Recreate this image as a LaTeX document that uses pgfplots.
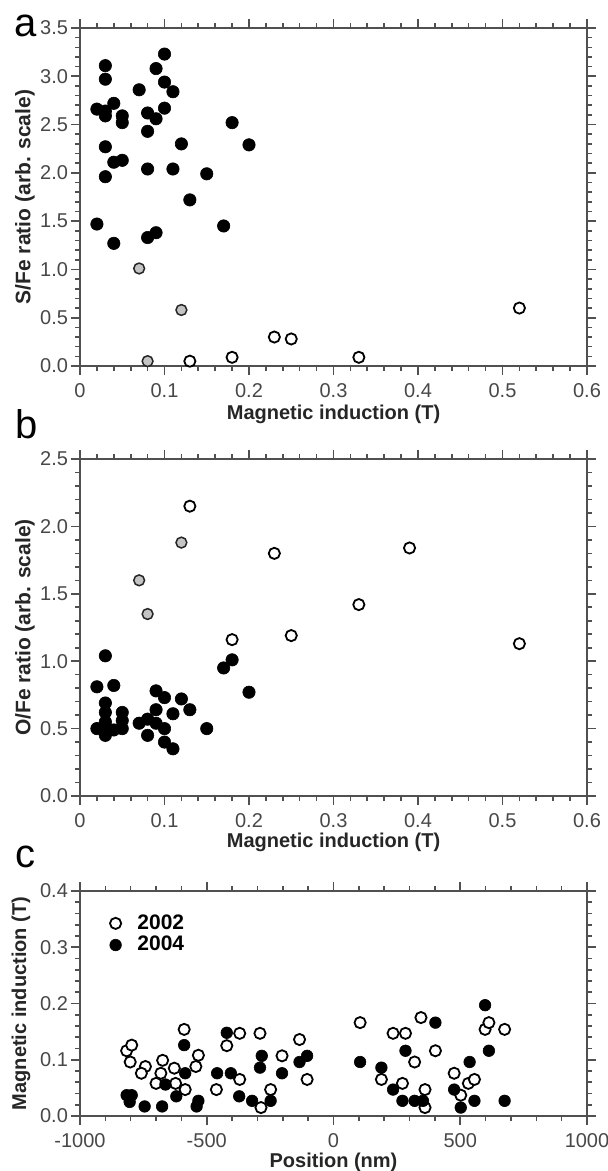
\documentclass[border=0pt]{standalone}
\usepackage{pgfplots}
\pgfplotsset{compat=1.18}
\usepackage{fontspec}
\setmainfont{Liberation Sans}

\definecolor{axisgray}{HTML}{505050}
\definecolor{labelgray}{HTML}{484848}
\definecolor{midgray}{HTML}{C4C4C4}

\pgfplotsset{
  panel/.style={
    scale only axis,
    width=253.5pt,
    axis line style={draw=axisgray, line width=1pt},
    tick style={draw=axisgray, line width=0.8pt},
    tick align=outside,
    major tick length=4.5pt,
    minor tick length=2.5pt,
    minor x tick num=4,
    minor y tick num=4,
    x tick label style={font=\fontsize{10}{10}\selectfont, text=labelgray, inner sep=1pt, yshift=-3pt},
    y tick label style={font=\fontsize{10}{10}\selectfont, text=labelgray, xshift=2pt},
    every axis x label/.style={at={([yshift=-24pt]axis description cs:0.5,0)}, anchor=center, inner sep=1pt,
      font=\bfseries\fontsize{10}{12}\selectfont, text=black!85},
    every axis y label/.style={at={([xshift=-27.5pt]axis description cs:0,0.5)}, anchor=center, rotate=90, inner sep=1pt,
      font=\bfseries\fontsize{10.5}{12}\selectfont, text=black!85},
  },
  blk/.style={only marks, mark=*, mark size=3.1pt, mark options={fill=black, draw=black, line width=0.3pt}},
  gry/.style={only marks, mark=*, mark size=2.7pt, mark options={fill=midgray, draw=black!85, line width=0.75pt}},
  opn/.style={only marks, mark=*, mark size=2.8pt, mark options={fill=white, draw=black, line width=0.9pt}},
}

\begin{document}
\begin{tikzpicture}
\fill[white] (0,0) rectangle (304pt,-585.5pt);
\path[use as bounding box] (0,0) rectangle (304pt,-585.5pt);

% panel letters
\node[anchor=base west, inner sep=0pt, font=\fontsize{20}{20}\selectfont] at (7pt,-18.3pt) {a};
\node[anchor=base west, inner sep=0pt, font=\fontsize{20}{20}\selectfont] at (7.5pt,-219pt) {b};
\node[anchor=base west, inner sep=0pt, font=\fontsize{20}{20}\selectfont] at (7.5pt,-433.5pt) {c};

% ---- a: S/Fe ratio
\begin{axis}[panel,
  at={(40pt,-183pt)}, anchor=south west,
  height=169pt,
  xmin=0, xmax=0.6, ymin=0, ymax=3.5,
  xtick={0,0.1,0.2,0.3,0.4,0.5,0.6},
  xticklabels={0,0.1,0.2,0.3,0.4,0.5,0.6},
  ytick={0,0.5,1,1.5,2,2.5,3,3.5},
  yticklabels={0.0,0.5,1.0,1.5,2.0,2.5,3.0,3.5},
  xlabel={Magnetic induction (T)},
  ylabel={S/Fe ratio (arb. scale)},
  clip=false,
]
\addplot[blk] coordinates {
  (0.02,2.66) (0.02,1.47) (0.03,3.11) (0.03,2.97) (0.03,2.64) (0.03,2.59)
  (0.04,2.72) (0.03,2.27) (0.03,1.96) (0.04,2.11) (0.05,2.13) (0.05,2.59)
  (0.05,2.52) (0.04,1.27) (0.07,2.86) (0.08,2.62) (0.08,2.43) (0.08,2.04)
  (0.08,1.33) (0.09,1.38) (0.09,3.08) (0.09,2.56) (0.10,3.23) (0.10,2.94)
  (0.10,2.67) (0.11,2.84) (0.11,2.04) (0.12,2.30) (0.13,1.72) (0.15,1.99)
  (0.17,1.45) (0.18,2.52) (0.20,2.29)
};
\addplot[gry] coordinates {(0.07,1.01) (0.12,0.58) (0.08,0.05)};
\addplot[opn] coordinates {
  (0.13,0.05) (0.18,0.09) (0.23,0.30) (0.25,0.28) (0.33,0.09) (0.52,0.60)
};
\end{axis}

% ---- b: O/Fe ratio
\begin{axis}[panel,
  at={(40pt,-398pt)}, anchor=south west,
  height=168.5pt,
  xmin=0, xmax=0.6, ymin=0, ymax=2.5,
  xtick={0,0.1,0.2,0.3,0.4,0.5,0.6},
  xticklabels={0,0.1,0.2,0.3,0.4,0.5,0.6},
  ytick={0,0.5,1,1.5,2,2.5},
  yticklabels={0.0,0.5,1.0,1.5,2.0,2.5},
  xlabel={Magnetic induction (T)},
  ylabel={O/Fe ratio (arb. scale)},
  x label style={at={([yshift=-23pt]axis description cs:0.5,0)}},
  clip=false,
]
\addplot[blk] coordinates {
  (0.02,0.81) (0.02,0.50) (0.03,1.04) (0.03,0.69) (0.03,0.62) (0.03,0.55)
  (0.03,0.45) (0.03,0.52) (0.04,0.82) (0.04,0.49) (0.05,0.62) (0.05,0.56)
  (0.05,0.50) (0.07,0.54) (0.08,0.57) (0.08,0.45) (0.09,0.78) (0.09,0.64)
  (0.09,0.54) (0.10,0.73) (0.10,0.50) (0.10,0.40) (0.11,0.61) (0.11,0.35)
  (0.12,0.72) (0.13,0.64) (0.15,0.50) (0.17,0.95) (0.18,1.01) (0.20,0.77)
};
\addplot[gry] coordinates {(0.07,1.60) (0.08,1.35) (0.12,1.88)};
\addplot[opn] coordinates {
  (0.13,2.15) (0.18,1.16) (0.23,1.80) (0.25,1.19) (0.33,1.42) (0.39,1.84) (0.52,1.13)
};
\end{axis}

% ---- c: magnetic induction vs position
\begin{axis}[panel,
  at={(40pt,-558pt)}, anchor=south west,
  height=112.5pt,
  xmin=-1000, xmax=1000, ymin=0, ymax=0.4,
  xtick={-1000,-500,0,500,1000},
  xticklabels={-1000,-500,0,500,1000},
  ytick={0,0.1,0.2,0.3,0.4},
  yticklabels={0.0,0.1,0.2,0.3,0.4},
  xlabel={Position (nm)},
  ylabel={Magnetic induction (T)},
  x label style={at={([yshift=-23pt]axis description cs:0.5,0)}},
  y label style={at={([xshift=-29.5pt]axis description cs:0,0.5)}, font=\bfseries\fontsize{10}{12}\selectfont},
  legend style={draw=none, fill=none, at={(0.058,0.915)}, anchor=north west,
    font=\bfseries\fontsize{10.5}{10.5}\selectfont, row sep=-2pt, inner sep=0pt,
    /tikz/every odd column/.append style={column sep=6pt}},
  legend cell align=left,
  clip=false,
]
\addplot[opn] coordinates {
  (-816,0.116) (-796,0.126) (-802,0.096) (-742,0.088) (-758,0.076) (-700,0.058)
  (-674,0.099) (-681,0.076) (-628,0.085) (-623,0.058) (-589,0.154) (-585,0.047)
  (-543,0.088) (-533,0.108) (-462,0.047) (-421,0.125) (-370,0.147) (-370,0.065)
  (-290,0.147) (-286,0.015) (-248,0.047) (-203,0.107) (-134,0.136) (-104,0.065)
  (105,0.166) (189,0.065) (235,0.147) (284,0.147) (272,0.058) (320,0.096)
  (345,0.175) (361,0.047) (361,0.015) (402,0.116) (476,0.076) (502,0.037)
  (532,0.058) (556,0.065) (598,0.154) (613,0.166) (675,0.154)
};
\addlegendentry{2002}
\addplot[blk, mark size=2.9pt] coordinates {
  (-816,0.037) (-796,0.037) (-804,0.025) (-745,0.017) (-676,0.017) (-663,0.056)
  (-620,0.035) (-589,0.126) (-585,0.076) (-540,0.017) (-533,0.027) (-459,0.076)
  (-421,0.148) (-405,0.076) (-372,0.035) (-321,0.027) (-290,0.086) (-283,0.107)
  (-248,0.027) (-203,0.076) (-134,0.096) (-104,0.107) (105,0.096) (189,0.086)
  (235,0.047) (272,0.027) (284,0.116) (320,0.027) (353,0.027) (402,0.166)
  (476,0.047) (502,0.015) (537,0.096) (556,0.027) (598,0.197) (613,0.116)
  (675,0.027)
};
\addlegendentry{2004}
\end{axis}
\end{tikzpicture}
\end{document}
